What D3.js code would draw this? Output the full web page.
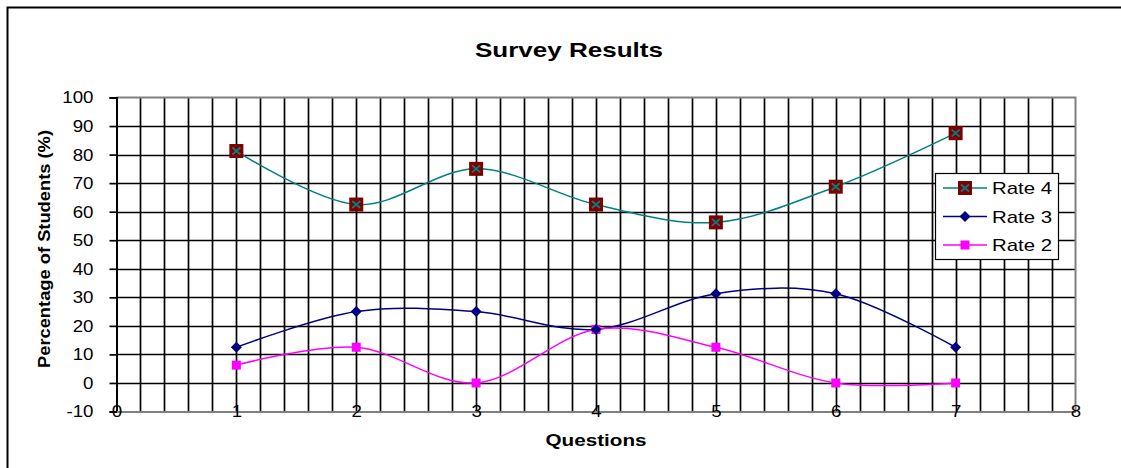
<!DOCTYPE html>
<html>
<head>
<meta charset="utf-8">
<script src="https://cdn.jsdelivr.net/npm/d3@7"></script>
<style>
  html, body { margin: 0; padding: 0; background: #fff; }
  svg { display: block; font-family: "Liberation Sans", Arial, sans-serif; }
</style>
</head>
<body>
<svg id="chart" width="1121" height="468"></svg>
<script>
// Survey data: percentage of students giving each rating, per question
const questions = [1, 2, 3, 4, 5, 6, 7];
const rate4 = [81.25, 62.5, 75, 62.5, 56.25, 68.75, 87.5];
const rate3 = [12.5, 25, 25, 18.75, 31.25, 31.25, 12.5];
const rate2 = [6.25, 12.5, 0, 18.75, 12.5, 0, 0];
const xTicks = [0, 1, 2, 3, 4, 5, 6, 7, 8];
const yTicks = [-10, 0, 10, 20, 30, 40, 50, 60, 70, 80, 90, 100];
const seriesNames = ["Rate 4", "Rate 3", "Rate 2"];

const svg = d3.select("#chart");

// widen text horizontally by a factor (the chart uses a broad sans face)
function stretch(sel, factor) {
  sel.each(function () {
    const w = this.getComputedTextLength();
    d3.select(this).attr("textLength", w * factor).attr("lengthAdjust", "spacingAndGlyphs");
  });
}

// chart frame
svg.append("rect")
  .attr("x", 7.5).attr("y", 7.5)
  .attr("width", 1130).attr("height", 480)
  .attr("fill", "#fff").attr("stroke", "#000").attr("stroke-width", 2);

const plot = { left: 116.5, right: 1075.5, top: 97.5, bottom: 411.5 };

const x = d3.scaleLinear().domain([0, 8]).range([plot.left, plot.right]);
const y = d3.scaleLinear().domain([-10, 100]).range([plot.bottom, plot.top]);

// vertical gridlines every 0.2
const vGrid = d3.range(1, 40).map(i => i * 0.2);
svg.append("g").selectAll("line").data(vGrid).join("line")
  .attr("x1", d => Math.round(x(d)) + 0.5).attr("x2", d => Math.round(x(d)) + 0.5)
  .attr("y1", plot.top).attr("y2", plot.bottom)
  .attr("stroke", "#000").attr("stroke-width", 1.7);

// horizontal gridlines every 10
svg.append("g").selectAll("line").data(yTicks.filter(d => d > -10 && d < 100)).join("line")
  .attr("x1", plot.left).attr("x2", plot.right)
  .attr("y1", d => Math.round(y(d)) + 0.5).attr("y2", d => Math.round(y(d)) + 0.5)
  .attr("stroke", "#000").attr("stroke-width", 1.7);

// plot border (top and right in grey)
svg.append("path")
  .attr("d", `M${plot.left},${plot.top}H${plot.right}V${plot.bottom}`)
  .attr("fill", "none").attr("stroke", "#808080").attr("stroke-width", 2);

// y axis
const yAxis = svg.append("g")
  .attr("transform", `translate(${plot.left},0)`)
  .call(d3.axisLeft(y).tickValues(yTicks).tickSize(7).tickPadding(16).tickFormat(d => String(d)));
yAxis.select(".domain").attr("stroke", "#000").attr("stroke-width", 2);
yAxis.selectAll(".tick line").attr("stroke", "#000").attr("stroke-width", 1.7);
yAxis.selectAll("text").attr("font-size", 17).attr("fill", "#000")
  .attr("font-family", "Liberation Sans, Arial, sans-serif")
  .call(stretch, 1.1);

// x axis: labels sit on the axis line
const xAxis = svg.append("g")
  .attr("transform", `translate(0,${plot.bottom})`)
  .call(d3.axisBottom(x).tickValues(xTicks).tickSize(0).tickPadding(-7).tickFormat(d => String(d)));
xAxis.select(".domain").attr("stroke", "#808080").attr("stroke-width", 2);
xAxis.selectAll("text").attr("font-size", 17).attr("fill", "#000")
  .attr("font-family", "Liberation Sans, Arial, sans-serif")
  .call(stretch, 1.1);

// title and axis titles
svg.append("text")
  .attr("x", 569).attr("y", 57)
  .attr("text-anchor", "middle")
  .attr("font-size", 21).attr("font-weight", "bold")
  .text("Survey Results")
  .attr("textLength", 188).attr("lengthAdjust", "spacingAndGlyphs");

svg.append("text")
  .attr("x", 596).attr("y", 446)
  .attr("text-anchor", "middle")
  .attr("font-size", 17).attr("font-weight", "bold")
  .text("Questions")
  .attr("textLength", 101).attr("lengthAdjust", "spacingAndGlyphs");

svg.append("text")
  .attr("transform", "translate(50,249) rotate(-90)")
  .attr("text-anchor", "middle")
  .attr("font-size", 17).attr("font-weight", "bold")
  .text("Percentage of Students (%)")
  .attr("textLength", 238).attr("lengthAdjust", "spacingAndGlyphs");

// smoothed series lines
const line = d3.line()
  .x((d, i) => x(questions[i]))
  .y(d => y(d))
  .curve(d3.curveCatmullRom.alpha(0));

const series = [
  { name: seriesNames[0], values: rate4, color: "#008080", marker: "xsquare" },
  { name: seriesNames[1], values: rate3, color: "#000080", marker: "diamond" },
  { name: seriesNames[2], values: rate2, color: "#FF00FF", marker: "square" }
];

function drawMarker(g, type, cx, cy) {
  if (type === "xsquare") {
    g.append("rect").attr("x", cx - 7).attr("y", cy - 7).attr("width", 14).attr("height", 14)
      .attr("fill", "#800000");
    g.append("path")
      .attr("d", `M${cx - 4},${cy - 3.5}L${cx + 4},${cy + 3.5}M${cx + 4},${cy - 3.5}L${cx - 4},${cy + 3.5}`)
      .attr("stroke", "#008080").attr("stroke-width", 1.8);
  } else if (type === "diamond") {
    g.append("path")
      .attr("d", `M${cx},${cy - 5.5}L${cx + 5.5},${cy}L${cx},${cy + 5.5}L${cx - 5.5},${cy}Z`)
      .attr("fill", "#000080");
  } else {
    g.append("rect").attr("x", cx - 4.5).attr("y", cy - 4.5).attr("width", 9).attr("height", 9)
      .attr("fill", "#FF00FF");
  }
}

series.forEach(s => {
  svg.append("path")
    .datum(s.values)
    .attr("d", line)
    .attr("fill", "none")
    .attr("stroke", s.color)
    .attr("stroke-width", 1.5);
});

series.slice().reverse().forEach(s => {
  const g = svg.append("g");
  s.values.forEach((v, i) => drawMarker(g, s.marker, x(questions[i]), y(v)));
});

// legend
const legend = svg.append("g");
legend.append("rect")
  .attr("x", 935.5).attr("y", 173.5).attr("width", 123).attr("height", 86)
  .attr("fill", "#fff").attr("stroke", "#000").attr("stroke-width", 1.2);

series.forEach((s, i) => {
  const cy = 188 + i * 28.5;
  legend.append("line")
    .attr("x1", 943).attr("x2", 987).attr("y1", cy).attr("y2", cy)
    .attr("stroke", s.color).attr("stroke-width", 1.5);
  drawMarker(legend, s.marker, 965, cy);
  legend.append("text")
    .attr("x", 992).attr("y", cy + 6)
    .attr("font-size", 17)
    .text(s.name)
    .attr("textLength", 60).attr("lengthAdjust", "spacingAndGlyphs");
});
</script>
</body>
</html>
